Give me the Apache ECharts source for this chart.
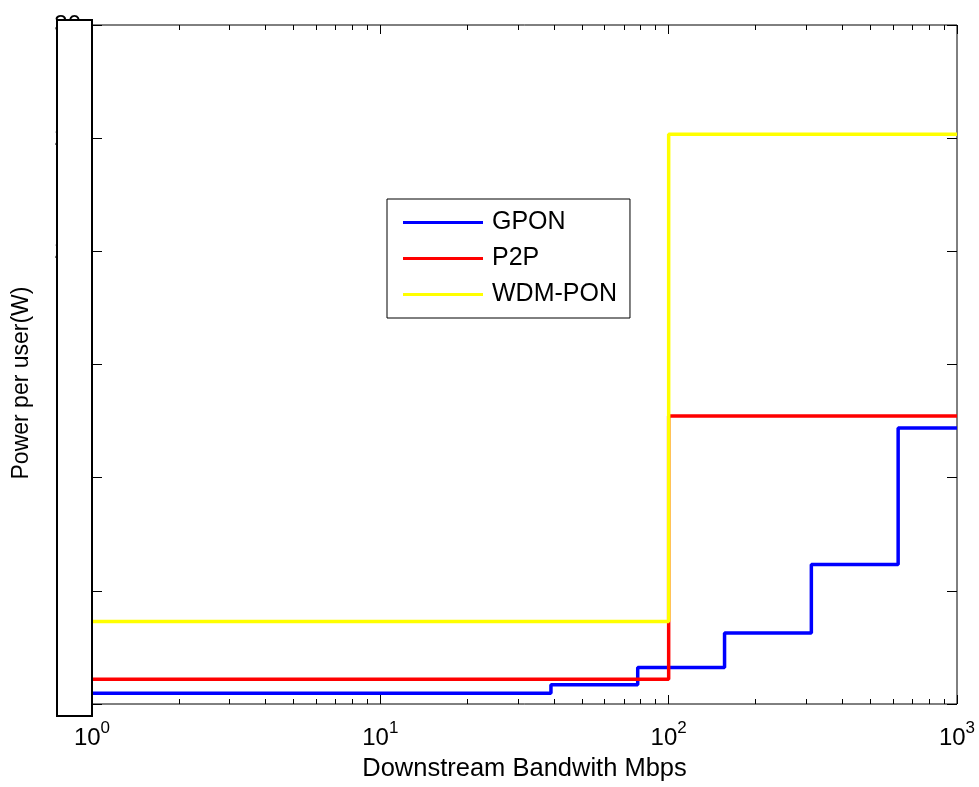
<!DOCTYPE html>
<html><head><meta charset="utf-8">
<script src="https://cdn.jsdelivr.net/npm/echarts@6/dist/echarts.min.js"></script>
<style>html,body{margin:0;padding:0;background:#fff;overflow:hidden}#c{width:979px;height:787px}</style>
</head><body><div id="c"></div>
<script>
const FONT = '"Liberation Sans", Arial, Helvetica, sans-serif';

// ---- data ----
const xMajorTicks = [1, 10, 100, 1000];
const xMinorTicks = [2,3,4,5,6,7,8,9,20,30,40,50,60,70,80,90,200,300,400,500,600,700,800,900];
const yTicks = [0, 5, 10, 15, 20, 25, 30];
const seriesNames = ['GPON', 'P2P', 'WDM-PON'];
const seriesColors = ['#0000ff', '#ff0000', '#ffff00'];
const gponX = [1, 39.06, 78.1, 156.25, 312.5, 625, 1000];
const gponY = [0.48, 0.85, 1.61, 3.14, 6.16, 12.19, 12.19];
const p2pX = [1, 100, 1000];
const p2pY = [1.09, 12.73, 12.73];
const wdmX = [1, 100, 1000];
const wdmY = [3.65, 25.17, 25.17];
const xTitle = 'Downstream Bandwith Mbps';
const yTitle = 'Power per user(W)';

const zip = (xs, ys) => xs.map((x, i) => [x, ys[i]]);
const seriesData = [zip(gponX, gponY), zip(p2pX, p2pY), zip(wdmX, wdmY)];

const chart = echarts.init(document.getElementById('c'), null, {renderer: 'canvas', width: 979, height: 787});

const baseX = {
  type: 'log', logBase: 10, min: xMajorTicks[0], max: xMajorTicks[xMajorTicks.length - 1],
  gridIndex: 0, axisLine: {show: false}, splitLine: {show: false}, minorTick: {show: false}
};
const majorTick = {show: true, inside: true, length: 9, lineStyle: {color: '#000', width: 1}, customValues: xMajorTicks};
const minorTick = {show: true, inside: true, length: 5, lineStyle: {color: '#000', width: 1}, customValues: xMinorTicks};

const option = {
  animation: false,
  backgroundColor: '#fff',
  grid: {left: 92, width: 865, top: 25, height: 685, show: true, borderColor: '#000', borderWidth: 1, containLabel: false},
  xAxis: [
    Object.assign({}, baseX, {
      position: 'bottom',
      axisTick: majorTick,
      axisLabel: {
        show: true, margin: 16, customValues: xMajorTicks,
        formatter: v => '{b|10}{s|' + Math.round(Math.log10(v)) + '}',
        rich: {
          b: {fontSize: 24, lineHeight: 24, padding: [12, 0, 0, 0], color: '#000', fontFamily: FONT},
          s: {fontSize: 17, lineHeight: 17, verticalAlign: 'top', color: '#000', fontFamily: FONT}
        }
      },
      name: xTitle, nameLocation: 'middle', nameGap: 52,
      nameTextStyle: {fontSize: 25.5, color: '#000', fontFamily: FONT}
    }),
    Object.assign({}, baseX, {position: 'bottom', axisTick: minorTick, axisLabel: {show: false}}),
    Object.assign({}, baseX, {position: 'top', axisTick: majorTick, axisLabel: {show: false}}),
    Object.assign({}, baseX, {position: 'top', axisTick: minorTick, axisLabel: {show: false}})
  ],
  yAxis: [
    {
      type: 'value', min: yTicks[0], max: yTicks[yTicks.length - 1], interval: yTicks[1] - yTicks[0],
      position: 'left', axisLine: {show: false}, splitLine: {show: false},
      axisTick: {show: true, inside: true, length: 10, lineStyle: {color: '#000'}},
      axisLabel: {show: true, margin: 11, fontSize: 24, color: '#000', fontFamily: FONT}
    },
    {
      type: 'value', min: yTicks[0], max: yTicks[yTicks.length - 1], interval: yTicks[1] - yTicks[0],
      position: 'right', axisLine: {show: false}, splitLine: {show: false},
      axisTick: {show: true, inside: true, length: 10, lineStyle: {color: '#000'}},
      axisLabel: {show: false}
    }
  ],
  legend: {
    show: true, orient: 'vertical', left: 387, top: 199,
    data: seriesNames.map(n => ({name: n, icon: 'rect'})),
    itemWidth: 80, itemHeight: 3, itemGap: 11,
    padding: [11, 13, 11, 16],
    borderColor: '#000', borderWidth: 1, backgroundColor: '#fff',
    textStyle: {fontSize: 25, color: '#000', fontFamily: FONT, padding: [0, 0, 0, 4]}
  },
  series: seriesNames.map((n, i) => ({
    name: n, type: 'line', step: 'end', xAxisIndex: 0, yAxisIndex: 0,
    data: seriesData[i], showSymbol: false, symbol: 'none',
    color: seriesColors[i],
    lineStyle: {color: seriesColors[i], width: 3.5},
    z: 2 + i
  })),
  graphic: [
    {type: 'rect', z: 100, shape: {x: 57, y: 20, width: 35, height: 696},
     style: {fill: '#fff', stroke: '#000', lineWidth: 2}},
    {type: 'text', z: 100, x: 22, y: 383, rotation: Math.PI / 2,
     style: {text: yTitle, fontSize: 23, fill: '#000', fontFamily: FONT, align: 'center', verticalAlign: 'middle'}}
  ]
};
chart.setOption(option);
</script></body></html>
